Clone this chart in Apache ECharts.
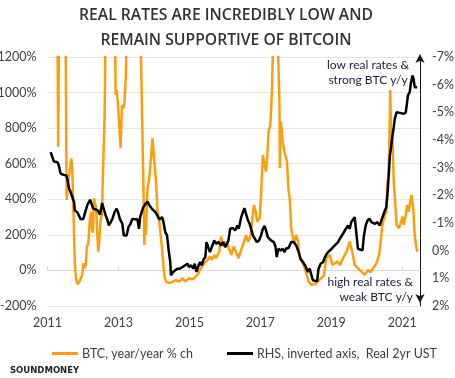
<!DOCTYPE html>
<html>
<head>
<meta charset="utf-8">
<script src="https://cdn.jsdelivr.net/npm/echarts@6/dist/echarts.min.js"></script>
<style>html,body{margin:0;padding:0;background:#fff}#c{width:455px;height:378px}</style>
</head>
<body>
<div id="c"></div>
<script>
var titleLines = ['REAL RATES ARE INCREDIBLY LOW AND', 'REMAIN SUPPORTIVE OF BITCOIN'];
var yearTicks = [2011, 2013, 2015, 2017, 2019, 2021];
var leftTicks = [-200, 0, 200, 400, 600, 800, 1000, 1200];
var rightTicks = [-7, -6, -5, -4, -3, -2, -1, 0, 1, 2];
var legendNames = ['BTC, year/year % ch', 'RHS, inverted axis,  Real 2yr UST'];
var noteTop = 'low real rates &\nstrong BTC y/y';
var noteBottom = 'high real rates &\nweak BTC y/y';
var brand = 'SOUNDMONEY';

var btcDates = [2011.25,2011.30,2011.35,2011.48,2011.51,2011.54,2011.59,2011.67,2011.70,2011.73,2011.77,2011.80,2011.85,2011.90,2011.94,2011.98,2012.01,2012.04,2012.08,2012.11,2012.15,2012.19,2012.23,2012.25,2012.28,2012.31,2012.34,2012.37,2012.40,2012.43,2012.46,2012.49,2012.53,2012.56,2012.59,2012.61,2012.64,2012.70,2012.82,2012.90,2012.92,2012.95,2012.99,2013.02,2013.06,2013.10,2013.14,2013.17,2013.21,2013.25,2013.38,2013.55,2013.61,2013.63,2013.70,2013.73,2013.75,2013.77,2013.82,2013.87,2013.96,2014.01,2014.06,2014.10,2014.15,2014.20,2014.25,2014.29,2014.34,2014.43,2014.53,2014.62,2014.71,2014.81,2014.88,2014.99,2015.09,2015.18,2015.26,2015.32,2015.42,2015.51,2015.58,2015.63,2015.70,2015.75,2015.84,2015.89,2015.95,2016.03,2016.08,2016.18,2016.25,2016.39,2016.44,2016.51,2016.60,2016.65,2016.72,2016.77,2016.82,2016.87,2016.91,2016.98,2017.02,2017.07,2017.12,2017.16,2017.19,2017.23,2017.28,2017.30,2017.33,2017.36,2017.42,2017.49,2017.54,2017.55,2017.58,2017.63,2017.68,2017.75,2017.79,2017.83,2017.87,2017.92,2017.96,2018.01,2018.06,2018.10,2018.17,2018.25,2018.31,2018.36,2018.43,2018.54,2018.62,2018.71,2018.79,2018.86,2018.96,2019.03,2019.10,2019.17,2019.24,2019.33,2019.43,2019.52,2019.56,2019.61,2019.66,2019.75,2019.85,2019.94,2020.04,2020.10,2020.18,2020.27,2020.35,2020.39,2020.44,2020.51,2020.55,2020.58,2020.61,2020.62,2020.64,2020.66,2020.68,2020.71,2020.72,2020.76,2020.80,2020.84,2020.91,2020.95,2021.01,2021.04,2021.10,2021.14,2021.18,2021.26,2021.31,2021.35,2021.40,2021.43];
var btcYoY = [2500,695,2000,2500,1300,396,499,630,565,330,50,-44,-78,-63,-44,-25,40,12,31,134,150,274,330,237,212,405,415,349,218,106,162,274,312,518,518,874,1400,2500,3500,1500,986,1014,920,930,687,930,911,948,1098,1500,3000,5000,1500,1250,518,143,312,199,462,518,743,611,499,330,274,181,69,-25,-63,-71,-63,-55,-63,-44,-63,-44,-50,-35,-16,12,40,59,78,59,87,68,106,190,134,162,143,87,134,69,106,143,199,162,190,180,368,330,274,293,424,649,593,555,630,780,817,892,1024,1300,1800,1300,930,574,836,724,667,611,462,400,237,181,162,199,162,87,50,12,-25,-63,-81,-78,-63,-44,-30,69,87,31,40,50,31,69,106,162,130,87,31,12,-7,-25,3,-10,12,40,87,162,256,312,330,499,518,600,743,1014,836,705,760,499,387,256,237,265,302,256,312,368,330,424,349,199,125,106];

var rateDates = [2011.09,2011.14,2011.18,2011.28,2011.32,2011.37,2011.46,2011.53,2011.56,2011.61,2011.65,2011.70,2011.75,2011.77,2011.84,2011.89,2011.94,2012.01,2012.05,2012.12,2012.20,2012.25,2012.29,2012.36,2012.42,2012.48,2012.54,2012.59,2012.64,2012.68,2012.73,2012.78,2012.83,2012.89,2012.95,2012.99,2013.04,2013.11,2013.15,2013.23,2013.28,2013.34,2013.39,2013.46,2013.53,2013.58,2013.61,2013.66,2013.70,2013.77,2013.82,2013.87,2013.96,2014.04,2014.10,2014.15,2014.23,2014.27,2014.32,2014.37,2014.41,2014.46,2014.48,2014.54,2014.60,2014.67,2014.73,2014.81,2014.88,2014.95,2014.99,2015.05,2015.11,2015.15,2015.20,2015.26,2015.30,2015.35,2015.40,2015.45,2015.48,2015.53,2015.58,2015.63,2015.70,2015.75,2015.82,2015.89,2015.95,2016.01,2016.06,2016.10,2016.15,2016.23,2016.29,2016.35,2016.39,2016.46,2016.51,2016.55,2016.60,2016.65,2016.70,2016.74,2016.79,2016.84,2016.90,2016.96,2017.02,2017.07,2017.12,2017.16,2017.21,2017.26,2017.30,2017.38,2017.43,2017.46,2017.51,2017.57,2017.63,2017.68,2017.73,2017.79,2017.87,2017.94,2018.01,2018.08,2018.13,2018.20,2018.26,2018.34,2018.39,2018.43,2018.48,2018.53,2018.60,2018.64,2018.70,2018.77,2018.82,2018.86,2018.91,2018.96,2019.01,2019.05,2019.10,2019.15,2019.19,2019.24,2019.29,2019.33,2019.38,2019.43,2019.47,2019.52,2019.56,2019.61,2019.66,2019.70,2019.75,2019.80,2019.88,2019.92,2019.97,2020.02,2020.08,2020.13,2020.18,2020.23,2020.29,2020.37,2020.41,2020.46,2020.51,2020.55,2020.58,2020.60,2020.63,2020.65,2020.68,2020.71,2020.76,2020.79,2020.84,2020.88,2020.93,2020.98,2021.04,2021.10,2021.14,2021.16,2021.21,2021.24,2021.29,2021.32,2021.35,2021.38,2021.42];
var realRate = [-3.56,-3.6,-3.22,-3.2,-3.08,-2.78,-2.74,-2.72,-2.57,-2.24,-2.12,-1.94,-1.75,-1.45,-1.39,-1.33,-1.13,-1.15,-1.33,-1.64,-1.84,-1.82,-1.52,-1.49,-1.45,-1.3,-1.72,-1.75,-1.27,-1.15,-0.91,-0.97,-1.15,-1.39,-1.52,-1.39,-1.15,-0.97,-0.55,-0.55,-0.85,-0.97,-1.15,-1.13,-1.15,-0.79,-1.21,-1.15,-1.57,-1.70,-1.78,-1.64,-1.49,-1.39,-1.27,-1.13,-1.21,-1.03,-0.67,-0.55,-0.07,0.41,0.89,0.77,0.71,0.65,0.65,0.59,0.53,0.47,0.59,0.53,0.65,0.47,0.77,0.53,0.41,0.53,0.31,0.23,-0.31,-0.37,0.05,0.05,-0.37,-0.25,-0.31,-0.19,-0.31,-0.13,-0.25,-0.37,-0.79,-0.82,-0.73,-0.91,-0.79,-1.21,-1.15,-1.54,-1.49,-1.09,-0.97,-0.91,-0.55,-0.49,-0.31,-0.37,-0.55,-0.79,-0.89,-0.73,-0.49,-0.55,-0.37,-0.31,-0.13,0.23,-0.07,-0.01,-0.07,0.05,-0.09,-0.09,-0.31,-0.31,-0.19,0.05,0.29,0.41,0.53,0.77,0.65,0.59,1.07,1.13,1.11,0.65,0.47,0.41,0.23,0.14,0.05,0.07,-0.07,-0.13,-0.19,-0.13,-0.31,-0.43,-0.49,-0.61,-0.73,-0.79,-0.91,-0.79,-1.03,-1.09,-1.21,-1.15,-0.07,-0.05,-0.01,-0.55,-0.91,-1.09,-1.15,-1.03,-1.09,-0.97,-1.03,-0.91,-1.09,-1.15,-1.45,-1.57,-2.0,-2.36,-2.96,-3.44,-3.68,-4.04,-4.46,-4.77,-5.0,-4.95,-4.98,-4.91,-4.95,-5.0,-5.06,-5.61,-5.73,-6.03,-6.33,-6.21,-5.91,-5.97,-5.91];

function pairs(xs, ys) { return xs.map(function (x, i) { return [x, ys[i]]; }); }
function pct(v) { return v + '%'; }

var FONT = 'Lato';
var chart = echarts.init(document.getElementById('c'), null, {renderer: 'canvas'});
chart.setOption({
  animation: false,
  backgroundColor: '#fff',
  title: {
    text: titleLines.join('\n'),
    left: 'center', top: -2,
    textStyle: {fontFamily: 'Open Sans', fontWeight: 600, fontSize: 15.7, color: '#333', lineHeight: 25, align: 'center'},
    textAlign: 'center', left: 221
  },
  legend: [
    {data: [{name: legendNames[0], icon: 'rect'}], left: 47, top: 342, itemWidth: 26, itemHeight: 3, itemGap: 4,
     textStyle: {fontFamily: FONT, fontSize: 12.5, color: '#404040', padding: [0, 0, 0, -1]}},
    {data: [{name: legendNames[1], icon: 'rect'}], left: 222, top: 342, itemWidth: 26, itemHeight: 3, itemGap: 4,
     textStyle: {fontFamily: FONT, fontSize: 12.5, color: '#404040', padding: [0, 0, 0, -1]}}
  ],
  grid: {left: 47.5, right: 35, top: 57, bottom: 72, containLabel: false, outerBoundsMode: 'none'},
  xAxis: [
    {type: 'value', min: 2011, max: 2021.5, position: 'bottom',
     axisLine: {show: false, onZero: false}, axisTick: {show: false}, splitLine: {show: false},
     axisLabel: {customValues: yearTicks, formatter: function (v) { return String(v); }, margin: 10,
       fontFamily: FONT, fontSize: 12.5, color: '#404040'}},
    {type: 'value', min: 2011, max: 2021.5,
     axisLine: {show: true, onZero: true, onZeroAxisIndex: 0, lineStyle: {color: '#d9d9d9', width: 1}},
     axisTick: {show: true, customValues: yearTicks, length: 4, lineStyle: {color: '#d9d9d9'}},
     axisLabel: {show: false}, splitLine: {show: false}}
  ],
  yAxis: [
    {type: 'value', min: -200, max: 1200, interval: 200, position: 'left',
     axisLine: {show: false}, axisTick: {show: false},
     splitLine: {show: true, lineStyle: {color: '#e6e6e6', width: 1}},
     axisLabel: {formatter: pct, margin: 11, fontFamily: FONT, fontSize: 12.5, color: '#404040'}},
    {type: 'value', min: -7, max: 2, interval: 1, inverse: true, position: 'right',
     axisLine: {show: true, symbol: ['arrow', 'arrow'], symbolSize: [7, 9], symbolOffset: [3, 3],
       lineStyle: {color: '#1a1a1a', width: 1}},
     axisTick: {show: false}, splitLine: {show: false},
     axisLabel: {formatter: pct, margin: 12, fontFamily: FONT, fontSize: 12.5, color: '#404040'}}
  ],
  series: [
    {name: legendNames[0], type: 'line', xAxisIndex: 0, yAxisIndex: 0, data: pairs(btcDates, btcYoY),
     showSymbol: false, symbol: 'none', clip: true, color: '#FF9E0D',
     lineStyle: {color: '#FF9E0D', width: 2.5}},
    {name: legendNames[1], type: 'line', xAxisIndex: 0, yAxisIndex: 1, data: pairs(rateDates, realRate),
     showSymbol: false, symbol: 'none', clip: true, color: '#000',
     lineStyle: {color: '#000', width: 2.5}}
  ],
  graphic: [
    {type: 'text', x: 368, y: 58, style: {text: noteTop, font: '12px ' + FONT, fill: '#1c1c3c', textAlign: 'center', lineHeight: 15}},
    {type: 'text', x: 413, y: 275, style: {text: noteBottom, font: '12px ' + FONT, fill: '#1c1c3c', textAlign: 'right', lineHeight: 15}},
    {type: 'text', x: 10, y: 366, style: {text: brand, font: 'bold 8.5px "DejaVu Sans"', fill: '#222'}}
  ]
});
</script>
</body>
</html>
